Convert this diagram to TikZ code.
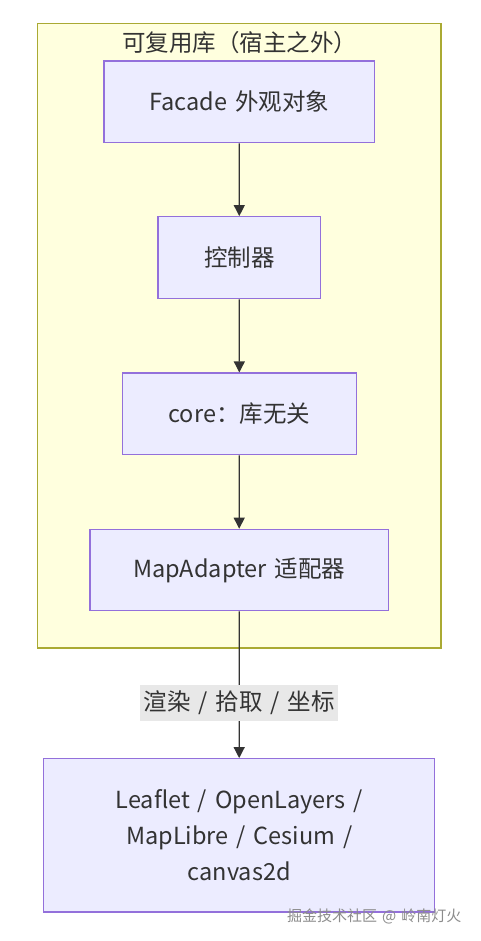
\documentclass[tikz,border=0pt]{standalone}
\usepackage{fontspec}
\setmainfont[WordSpace=1.5]{Noto Sans CJK SC}
\usetikzlibrary{arrows.meta}
\definecolor{nodefill}{HTML}{ECECFF}
\definecolor{nodeline}{HTML}{9370DB}
\definecolor{clusfill}{HTML}{FFFFDE}
\definecolor{clusline}{HTML}{AAAA33}
\definecolor{txt}{HTML}{333333}
\definecolor{lblbg}{HTML}{E8E8E8}
\tikzset{
  box/.style={draw=nodeline, fill=nodefill, line width=1.2pt, text=txt,
    font=\fontsize{23.5}{36}\selectfont, inner sep=0pt, align=center},
  arr/.style={draw=txt, line width=1.2pt, -{Triangle[length=11pt,width=11pt]}},
  lbl/.style={fill=lblbg, text=txt, font=\fontsize{23.5}{28}\selectfont,
    minimum width=198pt, minimum height=36pt, inner sep=0pt},
}
\begin{document}
\begin{tikzpicture}[x=1pt,y=-1pt]
\useasboundingbox (0,0) rectangle (481,941);
\fill[white] (0,0) rectangle (481,941);
\node[draw=clusline, fill=clusfill, line width=1.2pt, minimum width=403.7pt, minimum height=624.7pt, inner sep=0pt] (clus) at (239.15,335.65) {};
\node[text=txt, font=\fontsize{23.5}{28}\selectfont] (clustitle) at (239.5,43) {可复用库（宿主之外）};
\node[box, minimum width=270.3pt, minimum height=81.7pt] (facade) at (239.15,101.85) {Facade 外观对象};
\node[box, minimum width=162.7pt, minimum height=82pt] (ctrl) at (239.35,257.7) {控制器};
\node[box, minimum width=234pt, minimum height=81.7pt] (core) at (239.3,413.85) {core：库无关};
\node[box, minimum width=298.3pt, minimum height=81.4pt] (adapter) at (239.15,570) {MapAdapter 适配器};
\node[box, minimum width=391pt, minimum height=153.3pt] (leaflet) at (239.2,835.35) {Leaflet / OpenLayers /\\MapLibre / Cesium /\\canvas2d};
\draw[arr] (facade) -- (ctrl);
\draw[arr] (ctrl) -- (core);
\draw[arr] (core) -- (adapter);
\draw[arr] (adapter) -- node[lbl, pos=0.624] (edgelbl) {渲染 / 拾取 / 坐标} (leaflet);
\node[text=black!45, font=\fontsize{15}{18}\selectfont, anchor=east] (wm) at (465,916) {掘金技术社区 @ 岭南灯火};
\end{tikzpicture}
\end{document}
